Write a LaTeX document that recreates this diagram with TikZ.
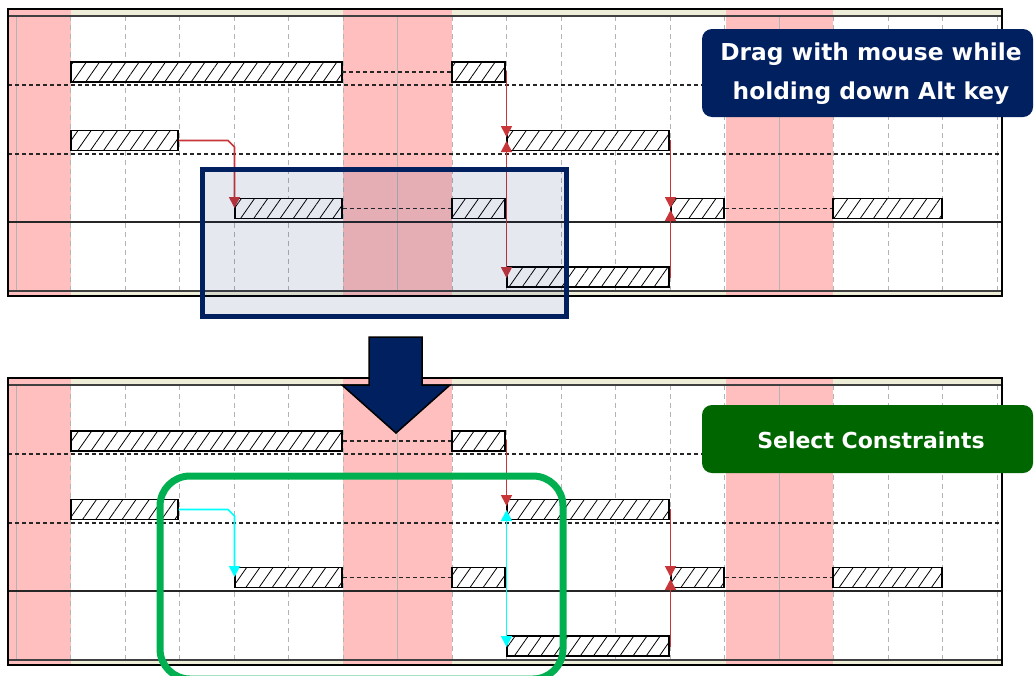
\documentclass[tikz,border=0pt]{standalone}
\usepackage{fontspec}
\newfontfamily\calloutfont{DejaVu Sans}
\usetikzlibrary{patterns.meta,arrows.meta,calc}
\definecolor{navy}{HTML}{002060}
\definecolor{bandc}{HTML}{FFBFBF}
\definecolor{beigec}{HTML}{EEEED8}
\definecolor{redc}{HTML}{C8363A}
\definecolor{selc}{HTML}{00FFFF}
\definecolor{gridc}{HTML}{B4B4B4}
\definecolor{greensel}{HTML}{00B050}
\definecolor{greenbox}{HTML}{006600}
\newcommand\ganttchart[3]{%
\begin{scope}[yshift=-#3pt]
 \fill[beigec] (8,10) rectangle (1002,16);
 \fill[beigec] (8,291) rectangle (1002,295);
 \fill[bandc] (8,10) rectangle (71,295);
 \fill[bandc] (343,10) rectangle (452,295);
 \fill[bandc] (726,10) rectangle (833,295);
 \foreach \k in {1,2,3,4,5,6,8,9,10,11,12,13,15,16,17,18}
   \draw[gridday] ({16+54.5*\k},16) -- ({16+54.5*\k},291);
 \foreach \k in {0,7,14}
   \draw[gridweek] ({16+54.5*\k},16) -- ({16+54.5*\k},291);
 \draw[rowsep] (8,85) -- (1002,85);
 \draw[rowsep] (8,154) -- (1002,154);
 \draw[rowline] (8,222) -- (1002,222);
 % bars
 \node[bar,minimum width=271pt] (#1b1a) at (206.5,72) {};
 \node[bar,minimum width=53pt] (#1b1b) at (478.5,72) {};
 \node[bar,minimum width=107pt] (#1b2a) at (124.5,140.5) {};
 \node[bar,minimum width=162pt] (#1b2b) at (588,140.5) {};
 \node[bar,minimum width=107pt] (#1b3a) at (288.5,208.5) {};
 \node[bar,minimum width=53pt] (#1b3b) at (478.5,208.5) {};
 \node[bar,minimum width=53pt] (#1b3c) at (697.5,208.5) {};
 \node[bar,minimum width=109pt] (#1b3d) at (887.5,208.5) {};
 \node[bar,minimum width=162pt] (#1b4) at (588,277) {};
 % split links
 \draw[link] (#1b1a.east) -- (#1b1b.west);
 \draw[link] (#1b3a.east) -- (#1b3b.west);
 \draw[link] (#1b3c.east) -- (#1b3d.west);
 % constraints
 \coordinate (#1c1a) at (228,140.5);
 \coordinate (#1c1b) at (234.5,147);
 \coordinate (#1c1t) at (234.5,208);
 \draw[conn=#2] (#1b2a.east) -- (#1c1a) -- (#1c1b) -- (#1c1t);
 \coordinate (#1c2s) at (506.5,72);
 \coordinate (#1c2t) at (506.5,137);
 \draw[conn=redc] (#1b1b.east) -- (#1c2s) -- (#1c2t);
 \coordinate (#1c3s) at (506.5,208.5);
 \coordinate (#1c3u) at (506.5,141);
 \coordinate (#1c3d) at (506.5,278);
 \draw[conn=#2] (#1b3b.east) -- (#1c3s) -- (#1c3u);
 \draw[conn=#2] (#1c3s) -- (#1c3d);
 \coordinate (#1c4s) at (670.5,140.5);
 \coordinate (#1c4t) at (670.5,208);
 \draw[conn=redc] (#1b2b.east) -- (#1c4s) -- (#1c4t);
 \coordinate (#1c5s) at (670.5,277);
 \coordinate (#1c5t) at (670.5,210);
 \draw[conn=redc] (#1b4.east) -- (#1c5s) -- (#1c5t);
 % frame
 \draw[innerline] (8,16) -- (1002,16);
 \draw[innerline] (8,291) -- (1002,291);
 \draw[line width=1.8pt] (8,9) rectangle (1002,296);
\end{scope}}
\begin{document}
\begin{tikzpicture}[x=1pt,y=-1pt,
  gridday/.style={gridc,line width=1pt,dash pattern=on 5pt off 4pt},
  gridweek/.style={gridc,line width=1pt},
  rowsep/.style={black!85,line width=1.3pt,dash pattern=on 4pt off 3pt},
  rowline/.style={black!85,line width=1.2pt},
  innerline/.style={black!75,line width=1.2pt},
  bar/.style={draw=black,line width=1.2pt,minimum height=20pt,inner sep=0pt,
    preaction={fill=white},pattern={Lines[angle=55,distance=10.8pt,line width=0.8pt]}},
  link/.style={black!85,line width=1.2pt,dash pattern=on 4pt off 3pt},
  conn/.style={draw=#1,line width=1.7pt,-{Triangle[width=11pt,length=11pt,fill=#1]}},
  callout/.style={rounded corners=10pt,text=white,font=\calloutfont\bfseries\fontsize{22}{39}\selectfont,align=center}
]
\useasboundingbox (0,0) rectangle (1035,675);
\fill[white] (0,0) rectangle (1035,675);
\ganttchart{t}{redc}{0}
\ganttchart{b}{selc}{369}
% selection rectangle (top)
\draw[navy,line width=5pt,fill=navy,fill opacity=0.1] (202,169) rectangle (566,316);
% big arrow
\draw[fill=navy,draw=black,line width=1.5pt,line join=miter]
  (369,337) -- (422,337) -- (422,385) -- (450,385) -- (396,433) -- (342,385) -- (369,385) -- cycle;
% green selection (bottom)
\draw[greensel,line width=7pt,rounded corners=30pt] (160,476) rectangle (563,679);
% callouts
\fill[navy,rounded corners=10pt] (702,29) rectangle (1033,117);
\node[callout,font=\calloutfont\bfseries\fontsize{23.3}{39}\selectfont] (c1) at (871,74) {Drag with mouse while\\holding down Alt key};
\fill[greenbox,rounded corners=10pt] (702,405) rectangle (1033,473);
\node[callout] (c2) at (871,440) {Select Constraints};
\end{tikzpicture}
\end{document}
